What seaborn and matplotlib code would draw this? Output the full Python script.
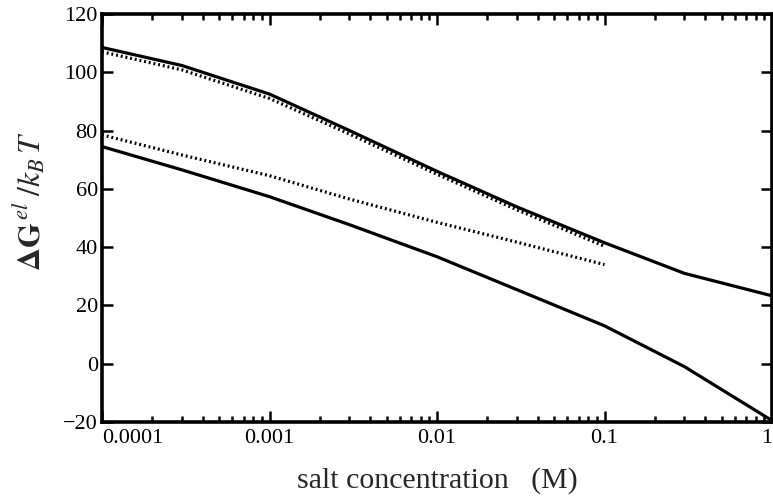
import numpy as np
import pandas as pd
import matplotlib
matplotlib.use("Agg")
import matplotlib.pyplot as plt
import seaborn as sns

# salt concentration (M) and free energy values
conc_full = [1e-4, 3e-4, 1e-3, 3e-3, 1e-2, 3e-2, 0.1, 0.3, 1.0]
conc_short = [1e-4, 3e-4, 1e-3, 3e-3, 1e-2, 3e-2, 0.1]

upper_solid = [108.5, 102.3, 92.5, 80.0, 66.0, 53.8, 41.5, 31.0, 23.3]
upper_dotted = [107.0, 100.8, 91.0, 78.8, 65.0, 52.8, 40.3]
lower_solid = [74.5, 66.5, 57.3, 47.7, 36.7, 25.4, 13.0, -1.0, -19.5]
lower_dotted = [78.5, 71.6, 64.5, 56.5, 48.5, 41.7, 34.0]

x_ticks = [1e-4, 1e-3, 1e-2, 0.1, 1.0]
x_tick_labels = ["0.0001", "0.001", "0.01", "0.1", "1"]
y_ticks = [-20, 0, 20, 40, 60, 80, 100, 120]
y_tick_labels = ["\u221220", "0", "20", "40", "60", "80", "100", "120"]

sns.set_theme(style="ticks")
plt.rcParams["font.family"] = ["Liberation Serif", "DejaVu Serif"]
plt.rcParams["mathtext.fontset"] = "stix"

fig = plt.figure(figsize=(7.73, 5.03), dpi=100)
ax = fig.add_axes([0.132, 0.161, 0.8667, 0.8113])

curves = [
    (conc_full, upper_solid, "-"),
    (conc_short, upper_dotted, (0, (0.6, 0.9))),
    (conc_full, lower_solid, "-"),
    (conc_short, lower_dotted, (0, (0.6, 0.9))),
]
for xs, ys, ls in curves:
    df = pd.DataFrame({"conc": xs, "dG": ys})
    sns.lineplot(data=df, x="conc", y="dG", ax=ax, color="black",
                 linewidth=2.3, linestyle=ls, estimator=None)

ax.set_xscale("log")
ax.set_xlim(1e-4, 1.0)
ax.set_ylim(-20, 120)

ax.set_xticks(x_ticks)
ax.set_xticklabels(x_tick_labels)
ax.set_yticks(y_ticks)
ax.set_yticklabels(y_tick_labels)
ax.xaxis.set_minor_locator(matplotlib.ticker.LogLocator(base=10, subs=np.arange(2, 10)))
ax.xaxis.set_minor_formatter(matplotlib.ticker.NullFormatter())

ax.tick_params(which="both", direction="in", top=True, right=True,
               labelsize=16, width=1.8, color="black", labelcolor="black")
ax.tick_params(which="major", length=8)
ax.tick_params(which="minor", length=4.5)
ax.tick_params(axis="x", pad=5)
ax.tick_params(axis="y", pad=3)
xlabels = ax.get_xticklabels()
xlabels[0].set_horizontalalignment("left")
xlabels[-1].set_horizontalalignment("right")

for sp in ax.spines.values():
    sp.set_linewidth(2.6)
    sp.set_color("black")

ax.set_xlabel("salt concentration   (M)", fontsize=21.5, labelpad=14)
ax.set_ylabel(r"$\mathbf{\Delta G}^{\,el}\;/k_B\,T$", fontsize=23)
ax.yaxis.set_label_coords(-0.082, 0.54)

fig.savefig("out.png", dpi=100)
